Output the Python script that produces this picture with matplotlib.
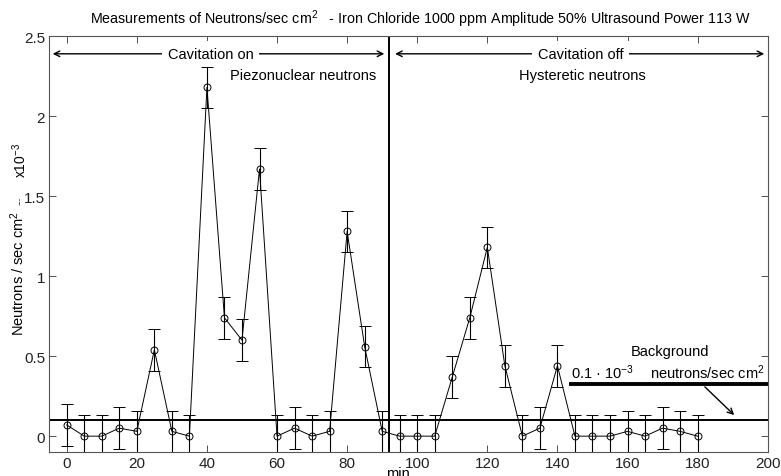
import matplotlib
matplotlib.use('Agg')
import matplotlib.pyplot as plt

plt.rcParams['font.family'] = ['Liberation Sans', 'DejaVu Sans']
plt.rcParams['mathtext.fontset'] = 'custom'
plt.rcParams['mathtext.rm'] = 'Liberation Sans'
plt.rcParams['mathtext.it'] = 'Liberation Sans:italic'

# measurement times (min) and neutron flux (x10^-3 neutrons/sec cm^2)
minutes = [0, 5, 10, 15, 20, 25, 30, 35, 40, 45, 50, 55, 60, 65, 70, 75, 80, 85, 90,
           95, 100, 105, 110, 115, 120, 125, 130, 135, 140, 145, 150, 155, 160, 165,
           170, 175, 180]
flux = [0.07, 0.0, 0.0, 0.05, 0.03, 0.54, 0.03, 0.0, 2.18, 0.74, 0.60, 1.67, 0.0,
        0.05, 0.0, 0.03, 1.28, 0.56, 0.03,
        0.0, 0.0, 0.0, 0.37, 0.74, 1.18, 0.44, 0.0, 0.05, 0.44, 0.0, 0.0, 0.0,
        0.03, 0.0, 0.05, 0.03, 0.0]
error = 0.13
background = 0.1
cavitation_stop = 92

xticks = [0, 20, 40, 60, 80, 100, 120, 140, 160, 180, 200]
yticks = [0, 0.5, 1, 1.5, 2, 2.5]
ytick_labels = ['0', '0.5', '1', '1.5', '2', '2.5']

fig = plt.figure(figsize=(7.81, 4.77), dpi=100)
ax = fig.add_axes([0.063, 0.050, 0.920, 0.872])

ax.errorbar(minutes, flux, yerr=error, fmt='-o', color='black', lw=0.7,
            elinewidth=0.8, capsize=4.5, capthick=0.8, markersize=5,
            markerfacecolor='none', markeredgewidth=0.7)

ax.axhline(background, color='black', lw=1.4)
ax.axvline(cavitation_stop, color='black', lw=1.4)

# cavitation arrows
ax.annotate('', xy=(-4.8, 2.39), xytext=(91.4, 2.39),
            arrowprops=dict(arrowstyle='<->', lw=1.0, color='black'))
ax.annotate('', xy=(92.9, 2.39), xytext=(199.8, 2.39),
            arrowprops=dict(arrowstyle='<->', lw=1.0, color='black'))
ax.text(41, 2.39, 'Cavitation on', ha='center', va='center', fontsize=10.5,
        bbox=dict(facecolor='white', edgecolor='none', pad=4))
ax.text(146.6, 2.39, 'Cavitation off', ha='center', va='center', fontsize=10.5,
        bbox=dict(facecolor='white', edgecolor='none', pad=4))
ax.text(67.4, 2.26, 'Piezonuclear neutrons', ha='center', va='center', fontsize=10.5)
ax.text(147, 2.26, 'Hysteretic neutrons', ha='center', va='center', fontsize=10.5)

# background label
ax.text(172, 0.53, 'Background', ha='center', va='center', fontsize=10.5)
ax.text(144, 0.40, '0.1 · 10$^{-3}$', ha='left', va='center', fontsize=10.5)
ax.text(199, 0.40, 'neutrons/sec cm$^2$', ha='right', va='center', fontsize=10.5)
ax.plot([144, 199.7], [0.325, 0.325], color='black', lw=2.8)
ax.annotate('', xy=(191, 0.12), xytext=(181.5, 0.32),
            arrowprops=dict(arrowstyle='->', lw=1.0, color='black'))

ax.set_xlim(-5, 200)
ax.set_ylim(-0.1, 2.5)
ax.set_xticks(xticks)
ax.set_yticks(yticks)
ax.set_yticklabels(ytick_labels)
ax.tick_params(direction='in', length=5, width=0.6, top=True, right=True,
               labelsize=11, pad=3, colors='#333333', labelcolor='#222222')
for s in ax.spines.values():
    s.set_linewidth(0.8)
    s.set_color('#555555')

fig.text(420 / 781, 1 - 19 / 477,
         'Measurements of Neutrons/sec cm$^2$   - Iron Chloride 1000 ppm Amplitude 50% Ultrasound Power 113 W',
         ha='center', va='center', fontsize=10.3)
fig.text(18 / 781, 1 - 273 / 477, 'Neutrons / sec cm$^2$', rotation=90,
         ha='center', va='center', fontsize=10.5)
fig.text(20 / 781, 1 - 201 / 477, '---', rotation=90,
         ha='center', va='center', fontsize=6)
fig.text(20 / 781, 1 - 160 / 477, 'x10$^{-3}$', rotation=90,
         ha='center', va='center', fontsize=10)
fig.text(398 / 781, 1 - 467 / 477, 'min', ha='center', va='top', fontsize=10.5)

fig.savefig('out.png', dpi=100)
